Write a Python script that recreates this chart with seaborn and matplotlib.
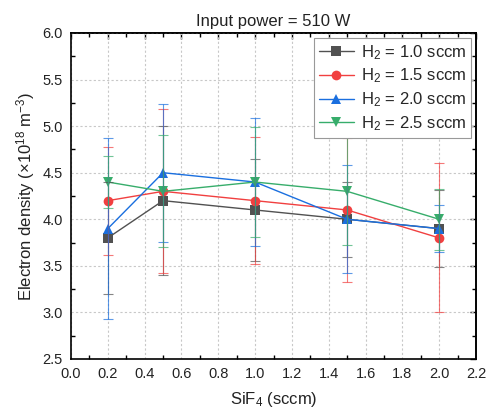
import numpy as np
import pandas as pd
import matplotlib
matplotlib.use("Agg")
import matplotlib.pyplot as plt
import seaborn as sns
from matplotlib.ticker import MultipleLocator

# ---- data ----
sif4 = [0.2, 0.5, 1.0, 1.5, 2.0]
labels = ["H$_2$ = 1.0 sccm", "H$_2$ = 1.5 sccm", "H$_2$ = 2.0 sccm", "H$_2$ = 2.5 sccm"]
ne_h10 = [3.8, 4.2, 4.1, 4.0, 3.9]
err_h10 = [0.6, 0.8, 0.55, 0.4, 0.41]
ne_h15 = [4.2, 4.3, 4.2, 4.1, 3.8]
err_h15 = [0.58, 0.88, 0.68, 0.77, 0.8]
ne_h20 = [3.9, 4.5, 4.4, 4.0, 3.9]
err_h20 = [0.97, 0.74, 0.69, 0.58, 0.25]
ne_h25 = [4.4, 4.3, 4.4, 4.3, 4.0]
err_h25 = [0.28, 0.6, 0.59, 0.58, 0.33]

series_vals = [ne_h10, ne_h15, ne_h20, ne_h25]
series_err = [err_h10, err_h15, err_h20, err_h25]
colors = ["#515151", "#F14040", "#1A6FDF", "#37AD6B"]
markers = ["s", "o", "^", "v"]

sns.set_theme(style="white")
plt.rcParams['font.family'] = ['Liberation Sans', 'DejaVu Sans']
plt.rcParams['mathtext.fontset'] = 'custom'
plt.rcParams['mathtext.rm'] = 'Liberation Sans'
plt.rcParams['mathtext.it'] = 'Liberation Sans:italic'
plt.rcParams['mathtext.bf'] = 'Liberation Sans:bold'

fig = plt.figure(figsize=(4.92, 4.17), dpi=100)
ax = fig.add_axes([71/492, 1-359/417, (476-71)/492, (359-33)/417])

rows = []
for lab, vals, errs in zip(labels, series_vals, series_err):
    for xv, yv, ev in zip(sif4, vals, errs):
        rows.append({"SiF4": xv, "ne": yv, "err": ev, "series": lab})
df = pd.DataFrame(rows)

for lab, col, mk in zip(labels, colors, markers):
    sub = df[df["series"] == lab]
    sns.lineplot(data=sub, x="SiF4", y="ne", color=col, marker=mk,
                 markersize=7, markeredgewidth=0, linewidth=1.0,
                 label=lab, ax=ax, zorder=3)
    ax.errorbar(sub["SiF4"], sub["ne"], yerr=sub["err"], fmt="none",
                ecolor=col, elinewidth=0.8, capsize=3.5, capthick=0.8,
                alpha=0.7, zorder=4)

ax.set_xlim(0.0, 2.2)
ax.set_ylim(2.5, 6.0)
ax.xaxis.set_major_locator(MultipleLocator(0.2))
ax.xaxis.set_minor_locator(MultipleLocator(0.1))
ax.yaxis.set_major_locator(MultipleLocator(0.5))
ax.yaxis.set_minor_locator(MultipleLocator(0.25))
ax.xaxis.set_major_formatter(matplotlib.ticker.FormatStrFormatter('%.1f'))
ax.yaxis.set_major_formatter(matplotlib.ticker.FormatStrFormatter('%.1f'))

ax.grid(True, which='major', linestyle=(0, (2, 2)), color='#c8c8c8', linewidth=0.8)
ax.set_axisbelow(True)

for sp in ax.spines.values():
    sp.set_color('black')
    sp.set_linewidth(1.2)
    sp.set_visible(True)

ax.tick_params(axis='both', which='major', direction='out', length=4, width=1,
               color='black', labelsize=10.5, labelcolor='#222222', pad=2)
ax.tick_params(axis='both', which='minor', direction='in', length=3, width=1,
               color='black', bottom=True, left=True)

# top and right inward ticks
secx = ax.secondary_xaxis('top')
secx.xaxis.set_major_locator(MultipleLocator(0.2))
secx.xaxis.set_minor_locator(MultipleLocator(0.1))
secx.tick_params(axis='x', which='both', direction='in', length=4, width=1,
                 labeltop=False, color='black')
secx.tick_params(axis='x', which='minor', length=3)
secy = ax.secondary_yaxis('right')
secy.yaxis.set_major_locator(MultipleLocator(0.5))
secy.yaxis.set_minor_locator(MultipleLocator(0.25))
secy.tick_params(axis='y', which='both', direction='in', length=4, width=1,
                 labelright=False, color='black')
secy.tick_params(axis='y', which='minor', length=3)
for s in (secx, secy):
    for sp in s.spines.values():
        sp.set_linewidth(1.2)
        sp.set_color('black')

ax.set_xlabel("SiF$_4$ (sccm)", fontsize=12, color='#222222', labelpad=6)
ax.set_ylabel("Electron density (×10$^{18}$ m$^{-3}$)", fontsize=12,
              color='#222222', labelpad=4)
ax.set_title("Input power = 510 W", fontsize=12, color='#222222', pad=5)

leg = ax.legend(loc='upper right', fontsize=12, frameon=True, fancybox=False,
                edgecolor='#999999', framealpha=1, borderpad=0.3,
                handlelength=2.1, handletextpad=0.4, labelspacing=0.3,
                borderaxespad=0.3)
leg.get_frame().set_linewidth(0.8)

fig.savefig("out.png", dpi=100)
